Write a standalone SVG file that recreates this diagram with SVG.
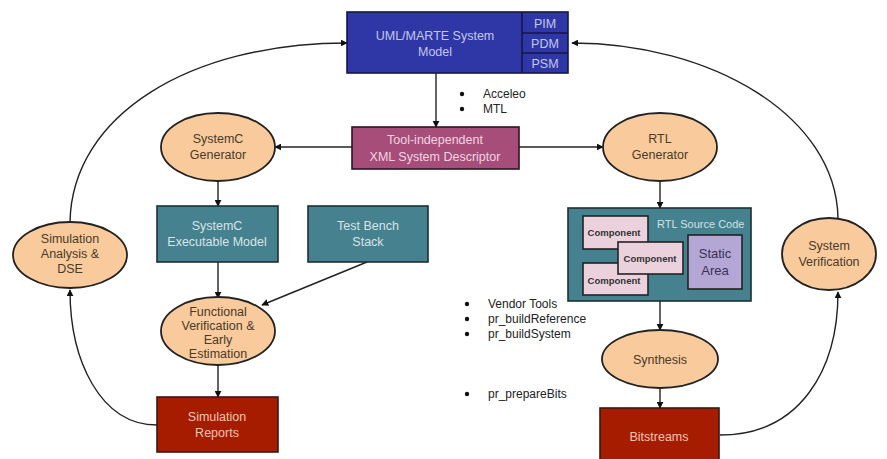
<svg xmlns="http://www.w3.org/2000/svg" width="887" height="459" viewBox="0 0 887 459">
  <defs>
    <marker id="arrow" viewBox="0 0 10 10" refX="9" refY="5" markerWidth="7" markerHeight="7" markerUnits="userSpaceOnUse" orient="auto">
      <path d="M0,0 L10,5 L0,10 z" fill="#111"/>
    </marker>
    <style>
      text { font-family: "Liberation Sans", Arial, sans-serif; }
      .edge { fill: none; stroke: #222; stroke-width: 1.4; marker-end: url(#arrow); }
      .oval { fill: #f9cb9c; stroke: #222; stroke-width: 1.8; }
      .oval-t { fill: #4a3a28; font-size: 12.5px; text-anchor: middle; }
      .teal { fill: #45818e; stroke: #1e2f33; stroke-width: 1.6; }
      .teal-t { fill: #d8e4e6; font-size: 12.5px; text-anchor: middle; }
      .red { fill: #a61c00; stroke: #3a1a12; stroke-width: 1.6; }
      .red-t { fill: #efc3b8; font-size: 12.5px; text-anchor: middle; }
      .blue { fill: #2f37a6; stroke: #15174a; stroke-width: 1.6; }
      .blue-t { fill: #c4c8e8; font-size: 12.5px; text-anchor: middle; }
      .comp { fill: #ead1dc; stroke: #222; stroke-width: 1.6; }
      .comp-t { fill: #333; font-size: 9.5px; font-weight: bold; text-anchor: middle; }
      .note { fill: #222; font-size: 12px; }
    </style>
  </defs>

  <!-- connectors -->
  <g id="connectors">
    <path class="edge" d="M436,73 L436,127"/>
    <path class="edge" d="M352,147 L275,147"/>
    <path class="edge" d="M519,147 L603,147"/>
    <path class="edge" d="M218,181 L218,206"/>
    <path class="edge" d="M218,262 L218,298"/>
    <path class="edge" d="M367,262 L262,305"/>
    <path class="edge" d="M218,365 L218,397"/>
    <path class="edge" d="M660,181 L660,208"/>
    <path class="edge" d="M660,301 L660,330"/>
    <path class="edge" d="M660,388 L660,408"/>
    <path class="edge" d="M70,222 C72,115 190,43 347,43"/>
    <path class="edge" d="M838,218 C836,115 710,43 572,43"/>
    <path class="edge" d="M157,425 C100,425 70,360 70,290"/>
    <path class="edge" d="M720,435 C800,435 838,370 838,292"/>
  </g>

  <!-- model node with view tabs -->
  <g id="uml-model">
    <rect class="blue" x="347" y="12" width="221" height="61"/>
    <line x1="522" y1="12" x2="522" y2="73" stroke="#15174a" stroke-width="1.6"/>
    <line x1="522" y1="33" x2="568" y2="33" stroke="#15174a" stroke-width="1.6"/>
    <line x1="522" y1="53" x2="568" y2="53" stroke="#15174a" stroke-width="1.6"/>
    <text class="blue-t" x="435" y="40">UML/MARTE System</text>
    <text class="blue-t" x="435" y="56">Model</text>
    <text class="blue-t" x="545" y="28">PIM</text>
    <text class="blue-t" x="545" y="48">PDM</text>
    <text class="blue-t" x="545" y="68">PSM</text>
  </g>

  <g id="acceleo-notes">
    <circle cx="462" cy="94" r="2.2" fill="#111"/>
    <circle cx="462" cy="109" r="2.2" fill="#111"/>
    <text class="note" x="483" y="98">Acceleo</text>
    <text class="note" x="483" y="113">MTL</text>
  </g>

  <g id="xml-descriptor">
    <rect x="352" y="127" width="167" height="42" fill="#a64d79" stroke="#2a1420" stroke-width="1.6"/>
    <text x="435" y="144" fill="#f0d6e2" font-size="12.5" text-anchor="middle">Tool-independent</text>
    <text x="435" y="161" fill="#f0d6e2" font-size="12.5" text-anchor="middle">XML System Descriptor</text>
  </g>

  <g id="systemc-generator">
    <ellipse class="oval" cx="218" cy="147" rx="57" ry="34"/>
    <text class="oval-t" x="218" y="143">SystemC</text>
    <text class="oval-t" x="218" y="159">Generator</text>
  </g>

  <g id="rtl-generator">
    <ellipse class="oval" cx="660" cy="147" rx="57" ry="34"/>
    <text class="oval-t" x="660" y="143">RTL</text>
    <text class="oval-t" x="660" y="159">Generator</text>
  </g>

  <g id="systemc-model">
    <rect class="teal" x="157" y="206" width="121" height="56"/>
    <text class="teal-t" x="217" y="230">SystemC</text>
    <text class="teal-t" x="217" y="246">Executable Model</text>
  </g>

  <g id="test-bench">
    <rect class="teal" x="308" y="206" width="120" height="56"/>
    <text class="teal-t" x="368" y="230">Test Bench</text>
    <text class="teal-t" x="368" y="246">Stack</text>
  </g>

  <g id="functional-verification">
    <ellipse class="oval" cx="218" cy="331" rx="57" ry="34"/>
    <text class="oval-t" x="218" y="316" font-size="11.5">Functional</text>
    <text class="oval-t" x="218" y="330" font-size="11.5">Verification &amp;</text>
    <text class="oval-t" x="218" y="344" font-size="11.5">Early</text>
    <text class="oval-t" x="218" y="358" font-size="11.5">Estimation</text>
  </g>

  <g id="simulation-reports">
    <rect class="red" x="157" y="397" width="121" height="55"/>
    <text class="red-t" x="217" y="421">Simulation</text>
    <text class="red-t" x="217" y="437">Reports</text>
  </g>

  <g id="simulation-analysis">
    <ellipse class="oval" cx="70" cy="255" rx="57" ry="33"/>
    <text class="oval-t" x="70" y="243">Simulation</text>
    <text class="oval-t" x="70" y="258">Analysis &amp;</text>
    <text class="oval-t" x="70" y="273">DSE</text>
  </g>

  <g id="rtl-source">
    <rect class="teal" x="568" y="208" width="183" height="93"/>
    <text x="657" y="228" fill="#d0e2e6" font-size="11">RTL Source Code</text>
    <rect class="comp" x="583" y="216" width="65" height="33"/>
    <text class="comp-t" x="614" y="236">Component</text>
    <rect class="comp" x="583" y="263" width="65" height="32"/>
    <text class="comp-t" x="614" y="284">Component</text>
    <rect class="comp" x="618" y="242" width="65" height="32"/>
    <text class="comp-t" x="650" y="262">Component</text>
    <rect x="688" y="235" width="54" height="54" fill="#b4a7d6" stroke="#222" stroke-width="1.6"/>
    <text x="715" y="258" fill="#3a3150" font-size="13" text-anchor="middle">Static</text>
    <text x="715" y="275" fill="#3a3150" font-size="13" text-anchor="middle">Area</text>
  </g>

  <g id="synthesis">
    <ellipse class="oval" cx="660" cy="359" rx="58" ry="29"/>
    <text class="oval-t" x="660" y="364">Synthesis</text>
  </g>

  <g id="bitstreams">
    <rect class="red" x="600" y="408" width="119" height="60"/>
    <text class="red-t" x="659" y="441">Bitstreams</text>
  </g>

  <g id="system-verification">
    <ellipse class="oval" cx="829" cy="254" rx="47" ry="36"/>
    <text class="oval-t" x="829" y="250">System</text>
    <text class="oval-t" x="829" y="266">Verification</text>
  </g>

  <g id="tool-notes">
    <circle cx="467" cy="304" r="2.2" fill="#111"/>
    <circle cx="467" cy="319" r="2.2" fill="#111"/>
    <circle cx="467" cy="334" r="2.2" fill="#111"/>
    <circle cx="467" cy="394" r="2.2" fill="#111"/>
    <text class="note" x="488" y="308">Vendor Tools</text>
    <text class="note" x="488" y="323">pr_buildReference</text>
    <text class="note" x="488" y="338">pr_buildSystem</text>
    <text class="note" x="488" y="398">pr_prepareBits</text>
  </g>
</svg>
